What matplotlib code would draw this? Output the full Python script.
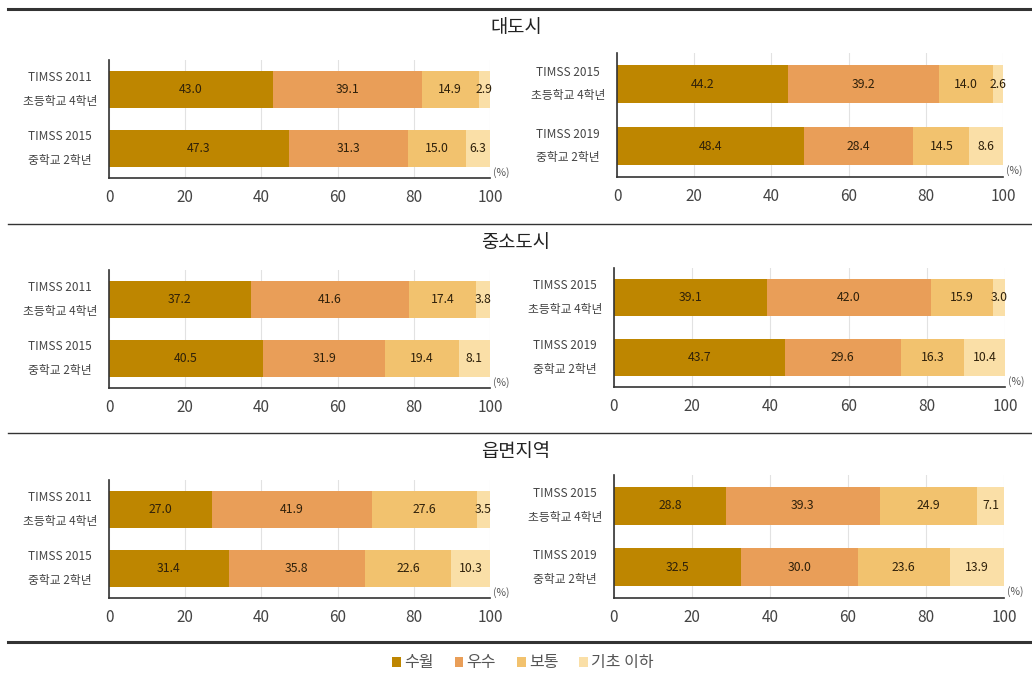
import numpy as np
import matplotlib.pyplot as plt
from matplotlib.lines import Line2D
from matplotlib.patches import Patch

plt.rcParams['font.family'] = ['Noto Sans CJK KR', 'DejaVu Sans']

W, H = 1032, 674

levels = ['수월', '우수', '보통', '기초 이하']
colors = ['#BE8600', '#E99E58', '#F2C26E', '#FADFA7']

regions = ['대도시', '중소도시', '읍면지역']
left_labels = [('TIMSS 2011', '초등학교 4학년'), ('TIMSS 2015', '중학교 2학년')]
right_labels = [('TIMSS 2015', '초등학교 4학년'), ('TIMSS 2019', '중학교 2학년')]

# [region][row][level]
left_vals = [
    [[43.0, 39.1, 14.9, 2.9], [47.3, 31.3, 15.0, 6.3]],
    [[37.2, 41.6, 17.4, 3.8], [40.5, 31.9, 19.4, 8.1]],
    [[27.0, 41.9, 27.6, 3.5], [31.4, 35.8, 22.6, 10.3]],
]
right_vals = [
    [[44.2, 39.2, 14.0, 2.6], [48.4, 28.4, 14.5, 8.6]],
    [[39.1, 42.0, 15.9, 3.0], [43.7, 29.6, 16.3, 10.4]],
    [[28.8, 39.3, 24.9, 7.1], [32.5, 30.0, 23.6, 13.9]],
]

xticks = [0, 20, 40, 60, 80, 100]

# pixel boxes (left, top, right, bottom)
left_boxes = [(109, 60, 490, 178), (109, 270, 490, 388), (109, 480, 490, 598)]
right_boxes = [(617, 53, 1003, 177), (614, 268, 1005, 387), (614, 475, 1004, 598)]
title_y = [28, 242, 452]

fig = plt.figure(figsize=(W / 100, H / 100), dpi=100)


def px_axes(box):
    l, t, r, b = box
    return fig.add_axes([l / W, 1 - b / H, (r - l) / W, (b - t) / H])


def draw_panel(ax, vals, labels):
    ypos = np.arange(len(vals))
    data = np.array(vals)
    left = np.zeros(len(vals))
    for j in range(data.shape[1]):
        ax.barh(ypos, data[:, j], left=left, height=0.62, color=colors[j],
                edgecolor='none', zorder=2)
        for i in range(len(vals)):
            ax.text(left[i] + data[i, j] / 2, ypos[i], f'{data[i, j]:.1f}',
                    ha='center', va='center', fontsize=8.8, color='#2e200a',
                    zorder=3)
        left = left + data[:, j]
    ax.set_xlim(0, 100)
    ax.set_ylim(1.5, -0.5)
    ax.set_xticks(xticks)
    ax.set_yticks([])
    for i, (l1, l2) in enumerate(labels):
        for txt, dy in [(l1, 12), (l2, -12)]:
            ax.annotate(txt, xy=(0, ypos[i]), xycoords=('axes fraction', 'data'),
                        xytext=(-49, dy), textcoords='offset pixels',
                        ha='center', va='center', fontsize=8.5, color='#444444',
                        annotation_clip=False)
    ax.tick_params(axis='x', length=0, pad=8, labelsize=11, labelcolor='#444444')
    ax.xaxis.grid(True, color='#e2e2e2', lw=0.8, zorder=0)
    ax.set_axisbelow(True)
    for s in ['top', 'right']:
        ax.spines[s].set_visible(False)
    for s in ['left', 'bottom']:
        ax.spines[s].set_color('#333333')
        ax.spines[s].set_linewidth(1.2)
    ax.text(1.03, 0.05, '(%)', transform=ax.transAxes, ha='center', va='center',
            fontsize=7.5, color='#555555')


for k in range(3):
    draw_panel(px_axes(left_boxes[k]), left_vals[k], left_labels)
    draw_panel(px_axes(right_boxes[k]), right_vals[k], right_labels)
    fig.text(516 / W, 1 - title_y[k] / H, regions[k], ha='center', va='center',
             fontsize=13.5, color='#222222', fontweight='light')

# separator lines
for y, lw in [(9, 2.2), (224, 1.0), (433, 1.0), (642, 2.2)]:
    fig.add_artist(Line2D([8 / W, 1.0], [1 - y / H, 1 - y / H], color='#333333', lw=lw))

handles = [Patch(facecolor=c, edgecolor='none') for c in colors]
fig.legend(handles, levels, loc='center', bbox_to_anchor=(523 / W, 1 - 663 / H),
           ncol=4, frameon=False, fontsize=11.5, handlelength=0.55, handleheight=0.55,
           handletextpad=0.2, columnspacing=1.3, labelcolor='#555555')

fig.savefig('out.png', dpi=100)
